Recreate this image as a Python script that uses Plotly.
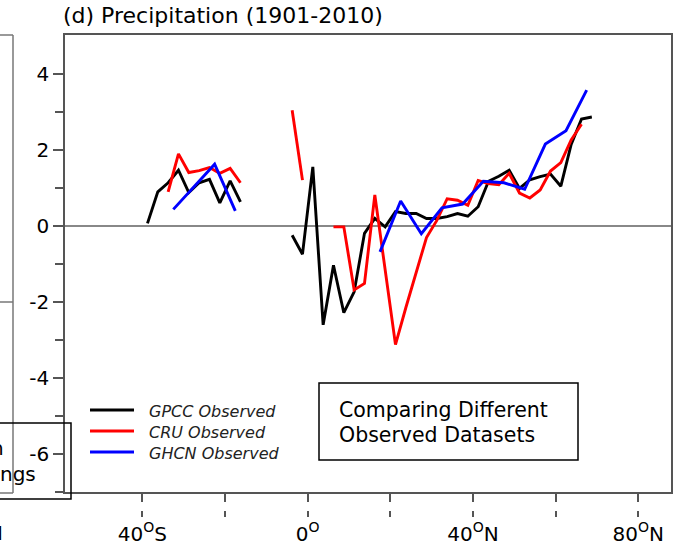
import plotly.graph_objects as go

# ---------------- data ----------------
lat_25 = [-38.75, -36.25, -33.75, -31.25, -28.75, -26.25, -23.75, -21.25, -18.75, -16.25,
          -13.75, -11.25, -8.75, -6.25, -3.75, -1.25, 1.25, 3.75, 6.25, 8.75,
          11.25, 13.75, 16.25, 18.75, 21.25, 23.75, 26.25, 28.75, 31.25, 33.75,
          36.25, 38.75, 41.25, 43.75, 46.25, 48.75, 51.25, 53.75, 56.25, 58.75,
          61.25, 63.75, 66.25, 68.75]

gpcc = [0.07, 0.90, 1.14, 1.47, 0.88, 1.14, 1.23, 0.61, 1.19, 0.64,
        None, None, None, None, -0.24, -0.74, 1.56, -2.60, -1.03, -2.28,
        -1.73, -0.19, 0.20, -0.02, 0.38, 0.33, 0.33, 0.20, 0.20, 0.25,
        0.33, 0.26, 0.51, 1.18, 1.31, 1.47, 0.99, 1.22, 1.30, 1.37,
        1.05, 2.15, 2.82, 2.87]

cru = [None, None, 0.90, 1.90, 1.41, 1.46, 1.54, 1.39, 1.52, 1.14,
       None, None, None, None, 3.05, 1.21, None, None, -0.02, -0.02,
       -1.68, -1.51, 0.82, -1.15, -3.12, -2.15, -1.20, -0.30, 0.15, 0.72,
       0.68, 0.55, 1.20, 1.12, 1.09, 1.39, 0.87, 0.74, 0.95, 1.45,
       1.67, 2.27, 2.68, None]

lat_5 = [-32.5, -27.5, -22.5, -17.5, -12.5, -7.5, -2.5, 2.5, 7.5, 12.5,
         17.5, 22.5, 27.5, 32.5, 37.5, 42.5, 47.5, 52.5, 57.5, 62.5, 67.5]

ghcn = [0.44, 1.03, 1.63, 0.40, None, None, None, None, None, None,
        -0.68, 0.66, -0.20, 0.48, 0.58, 1.18, 1.14, 0.97, 2.16, 2.51, 3.58]

series_names = ["GPCC Observed", "CRU Observed", "GHCN Observed"]
series_colors = ["#000000", "#ff0000", "#0000ff"]

x_tickvals = [-40, 0, 40, 80]
x_ticktext = ["40<sup>O</sup>S", "0<sup>O</sup>", "40<sup>O</sup>N", "80<sup>O</sup>N"]
x_minorvals = [-20, 20, 60]
y_tickvals = [-6, -4, -2, 0, 2, 4]
y_minorvals = [-7, -5, -3, -1, 1, 3]

title_text = "(d) Precipitation (1901-2010)"
box_text = ["Comparing Different", "Observed Datasets"]

# ---------------- layout geometry (pixels) ----------------
W_FIG, H_FIG = 677, 547
L, R, T, B = 65, 671, 35, 492
PW, PH = R - L, B - T


def px(x):
    return (x - L) / PW


def py(y):
    return (B - y) / PH


FONT = "DejaVu Sans"
AXC = "#555555"

fig = go.Figure()
for xs, ys, name, col in [(lat_25, gpcc, series_names[0], series_colors[0]),
                          (lat_25, cru, series_names[1], series_colors[1]),
                          (lat_5, ghcn, series_names[2], series_colors[2])]:
    fig.add_trace(go.Scatter(x=xs, y=ys, mode="lines", name=name,
                             line=dict(color=col, width=2.9),
                             connectgaps=False, showlegend=False))

shapes = []
annotations = []

# manual legend
leg_y = [410, 431, 452]
for name, col, yy in zip(series_names, series_colors, leg_y):
    shapes.append(dict(type="line", xref="paper", yref="paper",
                       x0=px(90), x1=px(134), y0=py(yy), y1=py(yy),
                       line=dict(color=col, width=3)))
    annotations.append(dict(text=name, xref="paper", yref="paper",
                            x=px(147), y=py(yy + 1), xanchor="left", yanchor="middle",
                            showarrow=False,
                            font=dict(family=FONT, size=16, color="#222", style="italic")))

# right text box
shapes.append(dict(type="rect", xref="paper", yref="paper",
                   x0=px(319), x1=px(578), y0=py(383), y1=py(460),
                   line=dict(color="black", width=1.5), fillcolor="rgba(0,0,0,0)"))
annotations.append(dict(text=box_text[0], xref="paper", yref="paper",
                        x=px(337), y=py(410), xanchor="left", yanchor="middle",
                        showarrow=False, font=dict(family=FONT, size=20.5, color="black")))
annotations.append(dict(text=box_text[1], xref="paper", yref="paper",
                        x=px(337), y=py(435), xanchor="left", yanchor="middle",
                        showarrow=False, font=dict(family=FONT, size=20.5, color="black")))

# title
annotations.append(dict(text=title_text, xref="paper", yref="paper",
                        x=px(61), y=py(16), xanchor="left", yanchor="middle",
                        showarrow=False, font=dict(family=FONT, size=22, color="black")))

# remnants of neighbouring panel (left)
shapes.append(dict(type="line", xref="paper", yref="paper",
                   x0=px(13), x1=px(13), y0=py(35), y1=py(493),
                   line=dict(color="#777", width=1.5)))
shapes.append(dict(type="line", xref="paper", yref="paper",
                   x0=px(-2), x1=px(13), y0=py(35), y1=py(35),
                   line=dict(color="#777", width=1.5)))
shapes.append(dict(type="line", xref="paper", yref="paper",
                   x0=px(-2), x1=px(13), y0=py(302), y1=py(302),
                   line=dict(color="#777", width=1.5)))
shapes.append(dict(type="line", xref="paper", yref="paper",
                   x0=px(-2), x1=px(13), y0=py(493), y1=py(493),
                   line=dict(color="#777", width=1.5)))
shapes.append(dict(type="rect", xref="paper", yref="paper",
                   x0=px(-5), x1=px(71), y0=py(423), y1=py(499),
                   line=dict(color="black", width=1.5), fillcolor="rgba(0,0,0,0)"))
annotations.append(dict(text="n", xref="paper", yref="paper",
                        x=px(6), y=py(448), xanchor="right", yanchor="middle",
                        showarrow=False, font=dict(family=FONT, size=20, color="black")))
annotations.append(dict(text="ngs", xref="paper", yref="paper",
                        x=px(38), y=py(474), xanchor="right", yanchor="middle",
                        showarrow=False, font=dict(family=FONT, size=20, color="black")))
annotations.append(dict(text="N", xref="paper", yref="paper",
                        x=px(5), y=py(533), xanchor="right", yanchor="middle",
                        showarrow=False, font=dict(family=FONT, size=20, color="black")))

# white gap splitting the x tick marks
shapes.append(dict(type="rect", xref="paper", yref="paper", layer="above",
                   x0=px(60), x1=px(677), y0=py(502), y1=py(511),
                   line=dict(width=0), fillcolor="white"))

fig.update_layout(
    width=W_FIG, height=H_FIG, autosize=False,
    margin=dict(l=L, r=W_FIG - R, t=T, b=H_FIG - B, pad=0),
    paper_bgcolor="white", plot_bgcolor="white",
    font=dict(family=FONT, size=20, color="black"),
    shapes=shapes, annotations=annotations,
    xaxis=dict(range=[-58.7, 87.9], showgrid=False, zeroline=False, automargin=False,
               showline=True, linecolor=AXC, linewidth=1.5, mirror=True,
               ticks="outside", ticklen=23, tickwidth=1.5, tickcolor=AXC,
               tickvals=x_tickvals, ticktext=x_ticktext,
               tickfont=dict(family=FONT, size=20, color="black"),
               minor=dict(tickvals=x_minorvals, ticks="outside", ticklen=23,
                          tickwidth=1.5, tickcolor=AXC, showgrid=False)),
    yaxis=dict(range=[-7, 5.03], showgrid=False, automargin=False,
               zeroline=True, zerolinecolor="#888888", zerolinewidth=2,
               showline=True, linecolor=AXC, linewidth=1.5, mirror=True,
               ticks="outside", ticklen=10, tickwidth=1.5, tickcolor=AXC,
               tickvals=y_tickvals, ticktext=[str(v) for v in y_tickvals],
               tickfont=dict(family=FONT, size=20, color="black"),
               minor=dict(tickvals=y_minorvals, ticks="outside", ticklen=8,
                          tickwidth=1.5, tickcolor=AXC, showgrid=False)),
)

fig.write_html("out.html")
